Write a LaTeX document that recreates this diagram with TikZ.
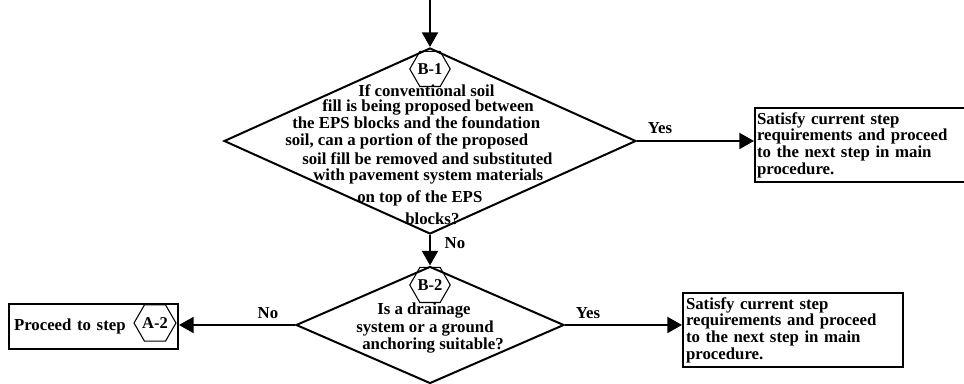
\documentclass[tikz,border=0pt]{standalone}
\usepackage{fontspec}
\setmainfont{Liberation Serif}
\usetikzlibrary{shapes.geometric,arrows.meta}
\begin{document}
\begin{tikzpicture}[x=0.75pt,y=-0.75pt,
  every node/.style={font=\fontsize{12.6}{15}\selectfont\bfseries},
  dia/.style={diamond,draw,line width=1.5pt,inner sep=0pt,aspect=1},
  hexa/.style={regular polygon,regular polygon sides=6,draw,line width=0.8pt,inner sep=0pt,minimum size=27pt,font=\fontsize{12.4}{12}\selectfont\bfseries},
  box/.style={draw,line width=1.5pt,anchor=north west,align=left},
  txt/.style={inner sep=0pt,anchor=north west,align=left},
  arr/.style={line width=1.6pt,-{Triangle[length=11pt,width=12pt]}},
  lbl/.style={inner sep=0pt}
]
\useasboundingbox (0,0) rectangle (964,384);

% decision 1
\node[dia,minimum width=309pt,minimum height=139.5pt] (d1) at (430,141) {};
\node[hexa] (h1) at (430,69) {B-1};
\node[txt,font=\fontsize{12.6}{11.25}\selectfont\bfseries] (t1) at (285,84.5)
 {\hspace*{54.75pt}If conventional soil\\
  \hspace*{27.75pt}fill is being proposed between\\
  \hspace*{5.25pt}the EPS blocks and the foundation\\[1.5pt]
  soil, can a portion of the proposed\\[1.5pt]
  \hspace*{12.75pt}soil fill be removed and substituted\\[0.75pt]
  \hspace*{21pt}with pavement system materials\\[4.5pt]
  \hspace*{54pt}on top of the EPS\\[3.75pt]
  \hspace*{90pt}blocks?};

% decision 2
\node[dia,minimum width=201pt,minimum height=87.75pt] (d2) at (430,325) {};
\node[hexa] (h2) at (430,285) {B-2};
\node[txt,font=\fontsize{12.6}{12.75}\selectfont\bfseries] (t2) at (356,302.6)
 {\hspace*{15.75pt}Is a drainage\\[0.75pt]
  system or a ground\\
  \hspace*{4.5pt}anchoring suitable?};

% result boxes
\node[box,minimum height=52.5pt,inner xsep=1.5pt,text width=158pt,
      font=\fontsize{12.6}{10.2}\selectfont\bfseries] (b1) at (754,107)
 {Satisfy current step\\requirements and proceed\\to the next step in main\\procedure.};
\node[box,minimum height=51.75pt,inner xsep=2.25pt,text width=160.5pt,
      font=\fontsize{12.6}{10.2}\selectfont\bfseries] (b2) at (682,292)
 {Satisfy current step\\requirements and proceed\\to the next step in main\\procedure.};
\node[box,minimum height=33.75pt,inner xsep=3.75pt,text width=119.25pt] (bl) at (8,303)
 {Proceed to step};
\node[hexa] (ha) at (155,323) {A-2};

% connectors
\coordinate (top) at (430,0);
\draw[arr] (top) -- (d1.north);
\draw[arr] (d1.east) -- (d1.east -| b1.west);
\draw[arr] (d1.south) -- (d2.north);
\draw[arr] (d2.east) -- (d2.east -| b2.west);
\draw[arr] (d2.west) -- (d2.west -| bl.east);

% labels
\node[lbl] (ly1) at (660,128) {Yes};
\node[lbl] (ln1) at (455,243) {No};
\node[lbl] (ly2) at (588,313) {Yes};
\node[lbl] (ln2) at (268,313) {No};
\end{tikzpicture}
\end{document}
